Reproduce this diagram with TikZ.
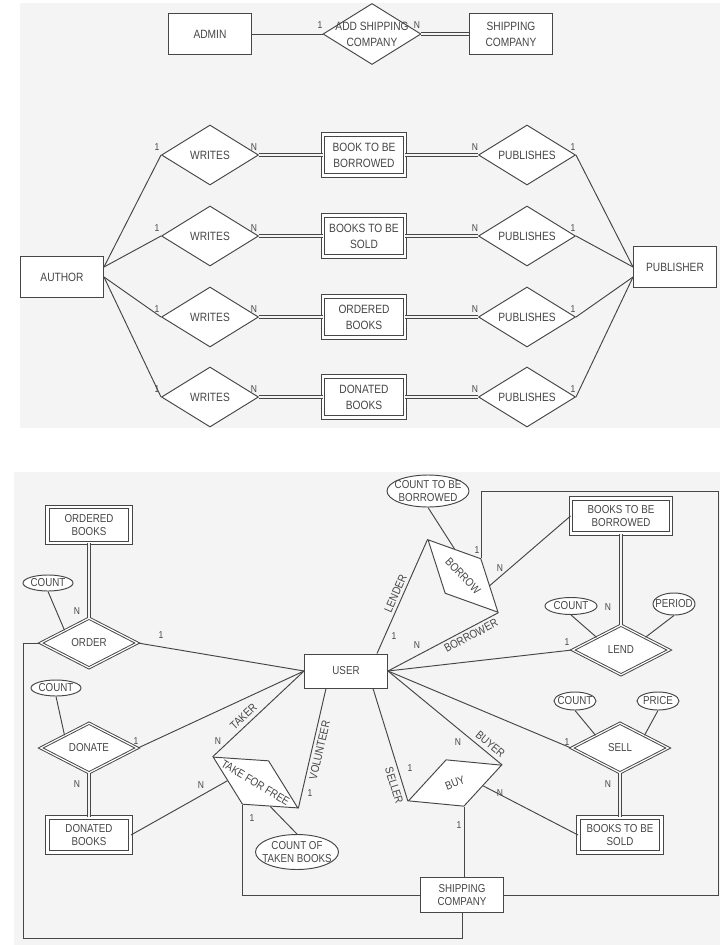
\documentclass[tikz,border=0pt]{standalone}
\usepackage{fontspec}
\setmainfont{Liberation Sans}[FakeStretch=0.85]
\usetikzlibrary{shapes.geometric}
\definecolor{panel}{RGB}{244,244,244}
\definecolor{ink}{RGB}{70,70,70}

\begin{document}
\begin{tikzpicture}[x=1pt, y=-1pt, line width=0.95pt, color=ink,
    font=\fontsize{11.5}{13.5}\selectfont,
    ent/.style={draw, fill=white, minimum width=83pt, minimum height=41pt, align=center, inner sep=1pt},
    went/.style={ent, double=white, double distance=2.5pt},
    rel/.style={draw, fill=white, diamond, minimum width=97pt, minimum height=60pt, inner sep=0pt},
    brel/.style={rel, minimum height=50pt},
    wbrel/.style={brel, double=white, double distance=1.2pt},
    attr/.style={draw, fill=white, ellipse, inner sep=0pt},
    txt/.style={align=center, inner sep=0pt},
    card/.style={font=\fontsize{10}{12}\selectfont, inner sep=0pt},
    role/.style={font=\fontsize{11.5}{13}\selectfont, sloped, inner sep=1pt},
    dbl/.style={double=panel, double distance=2pt}]
  \useasboundingbox (0,0) rectangle (720,945);

  \fill[panel] (20,3) rectangle (720,428);
  \begin{scope}[font=\fontsize{12}{16}\selectfont]
    \node[ent] (admin) at (210,34) {ADMIN};
    \node[rel, minimum width=98pt, minimum height=61pt, label={[txt]center:ADD SHIPPING\\COMPANY}] (addship) at (372,34) {};
    \node[ent] (shipco) at (511,34) {SHIPPING\\COMPANY};
    \draw (admin) -- (addship);
    \draw[dbl] (addship) -- (shipco);
    \node[card] (add1) at (320,25) {1};
    \node[card] (addN) at (417,25) {N};

    \node[ent] (author) at (62,277) {AUTHOR};
    \node[ent] (publisher) at (675,267) {PUBLISHER};
    \foreach \y/\t [count=\i] in {155/{BOOK TO BE\\BORROWED}, 236/{BOOKS TO BE\\SOLD}, 317/{ORDERED\\BOOKS}, 397/{DONATED\\BOOKS}} {
      \node[rel, label={[txt]center:WRITES}] (w\i) at (210,\y) {};
      \node[went, minimum width=82pt] (b\i) at (364,\y) {\t};
      \node[rel, label={[txt]center:PUBLISHES}] (p\i) at (527,\y) {};
      \draw[dbl] (w\i) -- (b\i);
      \draw[dbl] (b\i) -- (p\i);
      \node[card] (wa\i) at (157,\y-8) {1};
      \node[card] (wb\i) at (254,\y-8) {N};
      \node[card] (pa\i) at (475,\y-8) {N};
      \node[card] (pb\i) at (573,\y-8) {1};
    }
    \foreach \i/\s in {1/10, 2/10, 3/0, 4/0}
      \draw ([yshift=\s pt]author.east) -- (w\i.west);
    \foreach \i/\s in {1/0, 2/0, 3/-10, 4/-10}
      \draw (p\i.east) -- ([yshift=\s pt]publisher.west);
  \end{scope}

  \fill[panel] (14,472) rectangle (720,945);
  \node[went, minimum height=36pt] (obooks) at (89,525) {ORDERED\\BOOKS};
  \node[attr, minimum width=50pt, minimum height=16pt, label={[txt]center:COUNT}] (ocount) at (48,583) {};
  \node[wbrel, label={[txt]center:ORDER}] (order) at (89,643) {};
  \node[attr, minimum width=50pt, minimum height=16pt, label={[txt]center:COUNT}] (dcount) at (56,688) {};
  \node[wbrel, label={[txt]center:DONATE}] (donate) at (89,748) {};
  \node[went, minimum height=35pt] (dbooks) at (89,835) {DONATED\\BOOKS};
  \node[ent, minimum height=34pt] (user) at (346,671) {USER};
  \node[attr, minimum width=82pt, minimum height=32pt, label={[txt]center:COUNT TO BE\\BORROWED}] (bcount) at (428,491) {};
  \node[brel, minimum width=101pt, rotate=-46, label={[txt, rotate=-46]center:BORROW}] (borrow) at (463,576) {};
  \node[went, minimum width=100pt, minimum height=35pt] (bbooks) at (621,516) {BOOKS TO BE\\BORROWED};
  \node[wbrel, label={[txt]center:LEND}] (lend) at (621,650) {};
  \node[attr, minimum width=52pt, minimum height=17pt, label={[txt]center:COUNT}] (lcount) at (571,606) {};
  \node[attr, minimum width=42pt, minimum height=22pt, label={[txt]center:PERIOD}] (period) at (674,604) {};
  \node[attr, minimum width=42pt, minimum height=18pt, label={[txt]center:COUNT}] (scount) at (575,701) {};
  \node[attr, minimum width=42pt, minimum height=18pt, label={[txt]center:PRICE}] (price) at (658,701) {};
  \node[wbrel, label={[txt]center:SELL}] (sell) at (620,748) {};
  \node[went, minimum height=35pt] (sbooks) at (620,835) {BOOKS TO BE\\SOLD};
  \node[brel, minimum width=100pt, rotate=21, label={[txt, rotate=21]center:BUY}] (buy) at (455,783) {};
  \node[ent, minimum height=35pt] (ship) at (462,895) {SHIPPING\\COMPANY};
  \node[brel, minimum width=99pt, minimum height=51pt, rotate=-31, label={[txt, rotate=-31]center:TAKE FOR FREE}] (take) at (255.5,782.5) {};
  \node[attr, minimum width=83pt, minimum height=35pt, label={[txt]center:COUNT OF\\TAKEN BOOKS}] (tcount) at (297,852) {};

  \draw[dbl] (obooks) -- (order);
  \draw (ocount.south) -- (order.north west);
  \draw (dcount.south) -- (donate.north west);
  \draw[dbl] (donate) -- (dbooks);
  \draw (order.east) -- (user.west);
  \draw (donate.east) -- (user.west);
  \draw (order.west) -| (23,938) -| (ship.south);
  \draw (take.west) -- node[role, above=3pt, pos=.4] (taker) {TAKER} (user.west);
  \draw (take.east) -- node[role, below=2pt, pos=.5] (volunteer) {VOLUNTEER} ([xshift=-20pt]user.south);
  \draw (dbooks.east) -- (take.south west);
  \draw (tcount.north) -- (take.south east);
  \draw (take.south) |- (ship.west);
  \draw ([xshift=31pt]user.north) -- node[role, above=2pt, pos=.5] (lender) {LENDER} (borrow.west);
  \draw (user.east) -- node[role, below=2pt, pos=.72] (borrower) {BORROWER} (borrow.east);
  \draw (bcount.south) -- (borrow.north west);
  \draw (borrow.north east) -- (bbooks.west);
  \draw (ship.east) -| (718,491) -| (borrow.north);
  \draw[dbl] (bbooks) -- (lend);
  \draw (lcount.south) -- (lend.north west);
  \draw (period.south) -- (lend.north east);
  \draw (user.east) -- (lend.west);
  \draw (user.east) -- (sell.west);
  \draw (scount.south) -- (sell.north west);
  \draw (price.south) -- (sell.north east);
  \draw[dbl] (sell) -- (sbooks);
  \draw (user.east) -- node[role, above=3pt, pos=.85] (buyer) {BUYER} (buy.east);
  \draw ([xshift=27pt]user.south) -- node[role, below=3pt, pos=.84] (seller) {SELLER} (buy.west);
  \draw (buy.south east) -- (sbooks.west);
  \draw (buy.south) -- (buy.south |- ship.north);

  \node[card] (oN) at (77,611) {N};
  \node[card] (o1) at (161,635) {1};
  \node[card] (d1) at (136,741) {1};
  \node[card] (dN) at (77,784) {N};
  \node[card] (tN) at (218,741) {N};
  \node[card] (tdN) at (201,785) {N};
  \node[card] (tv1) at (310,793) {1};
  \node[card] (ts1) at (252,818) {1};
  \node[card] (ul1) at (394,636) {1};
  \node[card] (ubN) at (417,645) {N};
  \node[card] (br1) at (477,550) {1};
  \node[card] (brN) at (500,568) {N};
  \node[card] (lN) at (608,607) {N};
  \node[card] (l1) at (567,642) {1};
  \node[card] (s1) at (567,742) {1};
  \node[card] (sN) at (608,784) {N};
  \node[card] (byN) at (458,742) {N};
  \node[card] (by1) at (410,768) {1};
  \node[card] (bsN) at (500,793) {N};
  \node[card] (bs1) at (459,825) {1};
\end{tikzpicture}
\end{document}
